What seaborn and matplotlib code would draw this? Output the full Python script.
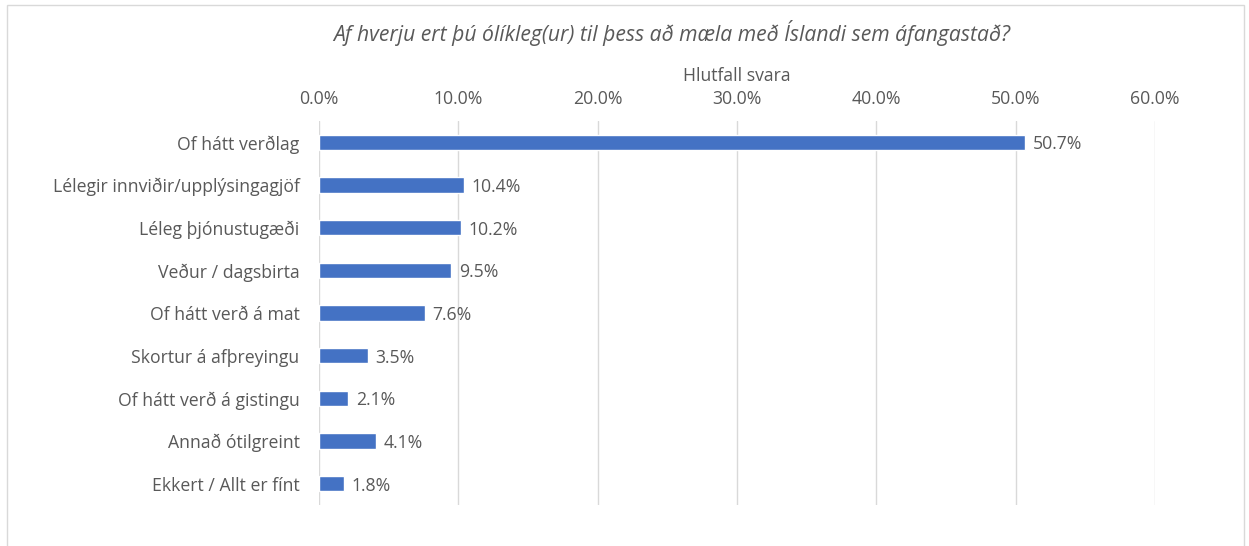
import numpy as np
import matplotlib
matplotlib.use("Agg")
import matplotlib.pyplot as plt
import seaborn as sns
import pandas as pd
from matplotlib.ticker import FuncFormatter
from matplotlib.patches import Rectangle

# data
categories = ["Of hátt verðlag", "Lélegir innviðir/upplýsingagjöf", "Léleg þjónustugæði",
              "Veður / dagsbirta", "Of hátt verð á mat", "Skortur á afþreyingu",
              "Of hátt verð á gistingu", "Annað ótilgreint", "Ekkert / Allt er fínt"]
values = [50.7, 10.4, 10.2, 9.5, 7.6, 3.5, 2.1, 4.1, 1.8]
xticks = [0, 10, 20, 30, 40, 50, 60]

df = pd.DataFrame({"cat": categories, "val": values})

sns.set_style("white")
plt.rcParams['font.family'] = ['Open Sans', 'DejaVu Sans']
txt = "#595959"
fs = 12.7

fig = plt.figure(figsize=(12.49, 5.46), dpi=100)
ax = fig.add_axes([0.2554, 0.0751, 0.6693, 0.7033])

sns.barplot(data=df, x="val", y="cat", color="#4472C4", width=0.36, ax=ax, saturation=1)

ax.set_xlim(0, 60)
ax.set_ylim(8.5, -0.5)
ax.set_xticks(xticks)
ax.xaxis.set_major_formatter(FuncFormatter(lambda v, p: f"{v:.1f}%"))
ax.xaxis.tick_top()
ax.xaxis.set_label_position("top")
ax.set_xlabel("Hlutfall svara", color=txt, fontsize=fs, labelpad=7)
ax.set_ylabel("")
ax.tick_params(axis="x", length=0, labelsize=fs, labelcolor=txt, pad=9)
ax.tick_params(axis="y", length=0, labelsize=fs, labelcolor=txt, pad=14)
ax.grid(axis="x", color="#d9d9d9", linewidth=1)
ax.set_axisbelow(True)
for s in ax.spines.values():
    s.set_visible(False)

for i, v in enumerate(values):
    ax.text(v + 0.55, i + 0.05, f"{v:.1f}%", va="center", ha="left", fontsize=fs, color=txt)

fig.text(0.538, 0.94, "Af hverju ert þú ólíkleg(ur) til þess að mæla með Íslandi sem áfangastað?",
         ha="center", va="center", fontsize=15.2, style="italic", color=txt)

fig.patches.append(Rectangle((0.006, -0.01), 0.99, 1.0, transform=fig.transFigure,
                             fill=False, edgecolor="#d9d9d9", linewidth=1))

fig.savefig("out.png", dpi=100)
